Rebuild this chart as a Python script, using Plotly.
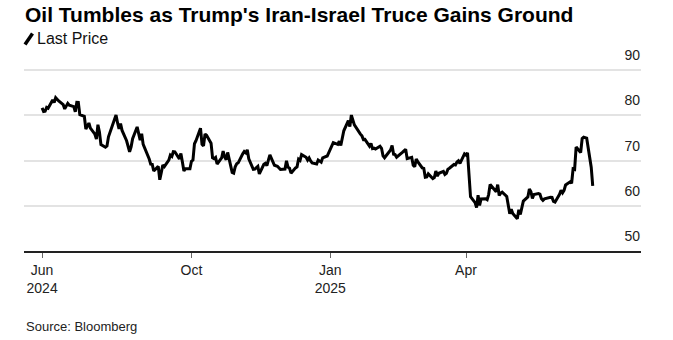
import plotly.graph_objects as go

# ---- data (WTI-style last price) ----
dates = [
"2024-06-24","2024-06-25","2024-06-26","2024-06-27","2024-06-28",
"2024-07-01","2024-07-02","2024-07-03","2024-07-05","2024-07-08","2024-07-09","2024-07-10","2024-07-11","2024-07-12",
"2024-07-15","2024-07-16","2024-07-17","2024-07-18","2024-07-19","2024-07-22","2024-07-23","2024-07-24","2024-07-25","2024-07-26",
"2024-07-29","2024-07-30","2024-07-31","2024-08-01","2024-08-02","2024-08-05","2024-08-06","2024-08-07","2024-08-08","2024-08-09",
"2024-08-12","2024-08-13","2024-08-14","2024-08-15","2024-08-16","2024-08-19","2024-08-20","2024-08-21","2024-08-22","2024-08-23",
"2024-08-26","2024-08-27","2024-08-28","2024-08-29","2024-08-30","2024-09-03","2024-09-04","2024-09-05","2024-09-06",
"2024-09-09","2024-09-10","2024-09-11","2024-09-12","2024-09-13","2024-09-16","2024-09-17","2024-09-18","2024-09-19","2024-09-20",
"2024-09-23","2024-09-24","2024-09-25","2024-09-26","2024-09-27","2024-09-30","2024-10-01","2024-10-02","2024-10-03","2024-10-04",
"2024-10-07","2024-10-08","2024-10-09","2024-10-10","2024-10-11","2024-10-14","2024-10-15","2024-10-16","2024-10-17","2024-10-18",
"2024-10-21","2024-10-22","2024-10-23","2024-10-24","2024-10-25","2024-10-28","2024-10-29","2024-10-30","2024-10-31","2024-11-01",
"2024-11-04","2024-11-05","2024-11-06","2024-11-07","2024-11-08","2024-11-11","2024-11-12","2024-11-13","2024-11-14","2024-11-15",
"2024-11-18","2024-11-19","2024-11-20","2024-11-21","2024-11-22","2024-11-25","2024-11-26","2024-11-27","2024-11-29",
"2024-12-02","2024-12-03","2024-12-04","2024-12-05","2024-12-06","2024-12-09","2024-12-10","2024-12-11","2024-12-12","2024-12-13",
"2024-12-16","2024-12-17","2024-12-18","2024-12-19","2024-12-20","2024-12-23","2024-12-24","2024-12-26","2024-12-27",
"2024-12-30","2024-12-31","2025-01-02","2025-01-03","2025-01-06","2025-01-07","2025-01-08","2025-01-10",
"2025-01-13","2025-01-14","2025-01-15","2025-01-16","2025-01-17","2025-01-21","2025-01-22","2025-01-23","2025-01-24",
"2025-01-27","2025-01-28","2025-01-29","2025-01-30","2025-01-31","2025-02-03","2025-02-04","2025-02-05","2025-02-06","2025-02-07",
"2025-02-10","2025-02-11","2025-02-12","2025-02-13","2025-02-14","2025-02-18","2025-02-19","2025-02-20","2025-02-21",
"2025-02-24","2025-02-25","2025-02-26","2025-02-27","2025-02-28","2025-03-03","2025-03-04","2025-03-05","2025-03-06","2025-03-07",
"2025-03-10","2025-03-11","2025-03-12","2025-03-13","2025-03-14","2025-03-17","2025-03-18","2025-03-19","2025-03-20","2025-03-21",
"2025-03-24","2025-03-25","2025-03-26","2025-03-27","2025-03-28","2025-03-31","2025-04-01","2025-04-02","2025-04-03","2025-04-04",
"2025-04-07","2025-04-08","2025-04-09","2025-04-10","2025-04-11","2025-04-14","2025-04-15","2025-04-16","2025-04-17",
"2025-04-21","2025-04-22","2025-04-23","2025-04-24","2025-04-25","2025-04-28","2025-04-29","2025-04-30","2025-05-01","2025-05-02",
"2025-05-05","2025-05-06","2025-05-07","2025-05-08","2025-05-09","2025-05-12","2025-05-13","2025-05-14","2025-05-15","2025-05-16",
"2025-05-19","2025-05-20","2025-05-21","2025-05-22","2025-05-23","2025-05-27","2025-05-28","2025-05-29","2025-05-30",
"2025-06-02","2025-06-03","2025-06-04","2025-06-05","2025-06-06","2025-06-09","2025-06-10","2025-06-11","2025-06-12","2025-06-13",
"2025-06-16","2025-06-17","2025-06-18","2025-06-20","2025-06-23","2025-06-24",
]
last_price = [
81.63,80.83,80.90,81.74,81.54,
83.38,82.81,83.88,83.16,82.33,81.41,82.10,82.62,82.21,
81.91,80.76,82.85,82.82,80.13,79.78,76.96,77.59,78.28,77.16,
75.81,74.73,77.91,76.31,73.52,72.94,73.20,75.23,76.19,76.84,
80.06,78.35,76.98,78.16,76.65,74.37,73.17,71.93,73.01,74.83,
77.42,75.53,74.52,75.91,73.55,70.34,69.20,69.15,67.67,
68.71,65.75,67.31,68.97,68.65,70.09,71.19,70.91,71.95,71.92,
70.37,71.56,69.69,67.67,68.18,68.17,69.83,70.10,73.71,74.38,
77.14,73.57,73.24,75.85,75.56,73.83,70.58,70.39,70.67,69.22,
70.56,72.09,70.77,70.19,71.78,67.38,67.21,68.61,69.26,69.49,
71.47,71.99,71.69,72.36,70.38,68.04,68.12,68.43,68.70,67.02,
69.16,69.39,68.87,70.10,71.24,68.94,68.77,68.72,68.00,
68.10,69.94,68.54,68.30,67.20,68.37,68.59,70.29,70.02,71.29,
70.71,70.08,70.58,69.91,69.46,69.24,70.10,69.62,70.60,
70.99,71.72,73.13,73.96,73.56,74.25,73.32,76.57,
78.82,77.50,80.04,78.68,77.88,75.83,75.44,74.62,74.66,
73.17,73.77,72.62,72.73,72.53,73.16,72.70,71.03,70.61,71.00,
72.32,73.32,71.37,71.29,70.74,71.85,72.25,72.48,70.40,
70.70,68.93,68.62,70.35,69.76,68.37,68.26,66.31,66.36,67.04,
66.03,66.25,67.68,66.55,67.18,67.58,66.90,67.16,68.07,68.28,
69.11,69.00,69.65,69.92,69.36,71.48,71.20,71.71,66.95,61.99,
60.70,59.58,62.35,60.07,61.50,61.53,61.33,62.47,64.68,
63.08,64.67,62.27,62.79,63.02,62.05,60.42,58.21,59.24,58.29,
57.13,59.09,58.07,59.91,61.02,61.95,63.67,63.15,61.62,62.49,
62.69,62.56,61.57,61.20,61.53,61.89,61.84,60.94,60.79,
62.52,63.41,62.85,63.37,64.58,65.29,64.98,68.15,68.04,72.98,
71.77,74.84,75.14,74.93,68.51,64.37,
]

x_tickvals = ["2024-06-24", "2024-10-01", "2025-01-01", "2025-04-01"]
x_ticktext = ["Jun<br>2024", "Oct", "Jan<br>2025", "Apr"]
y_tickvals = [50, 60, 70, 80, 90]

title = "Oil Tumbles as Trump's Iran-Israel Truce Gains Ground"
legend_label = "Last Price"
source = "Source: Bloomberg"

# ---- layout geometry (pixels) ----
W, H = 673, 340
L, R, T, B = 24, 641, 30, 251
PX_PER_UNIT = 4.525          # 10 units = 45.25 px
Y_TOP = 50 + (B - T) / PX_PER_UNIT

def px_x(px):
    return (px - L) / (R - L)

def px_y(py):
    return (B - py) / (B - T)

FONT = "Liberation Sans, Arial, Helvetica, sans-serif"

fig = go.Figure()
fig.add_trace(go.Scatter(
    x=dates, y=last_price, mode="lines",
    line=dict(color="#000000", width=3),
    hoverinfo="skip", showlegend=False,
))

fig.update_layout(
    width=W, height=H,
    margin=dict(l=L, r=W - R, t=T, b=H - B, pad=0),
    paper_bgcolor="white", plot_bgcolor="white",
    font=dict(family=FONT, color="#222222"),
    xaxis=dict(
        type="date",
        range=["2024-06-12", "2025-07-26"],
        tickvals=x_tickvals, ticktext=x_ticktext,
        ticks="outside", ticklen=5, tickwidth=1, tickcolor="#666666",
        showline=True, linecolor="#222222", linewidth=1.5,
        showgrid=False, zeroline=False,
        tickfont=dict(size=14, color="#222222"),
        fixedrange=True,
    ),
    yaxis=dict(
        range=[50, Y_TOP], side="right",
        tickvals=y_tickvals,
        ticklabelposition="inside top",
        ticklabelshift=-5,
        ticklabelstandoff=-2,
        ticks="", showline=False,
        showgrid=True, gridcolor="#e3e3e3", gridwidth=1.5,
        zeroline=False,
        tickfont=dict(size=14, color="#222222"),
        fixedrange=True,
    ),
)

annotations = [
    dict(text="<b>" + title + "</b>", x=px_x(23), y=px_y(14.5), xref="paper", yref="paper",
         xanchor="left", yanchor="middle", showarrow=False,
         font=dict(size=21, color="#000000", family=FONT)),
    dict(text=legend_label, x=px_x(35), y=px_y(38), xref="paper", yref="paper",
         xanchor="left", yanchor="middle", showarrow=False,
         font=dict(size=16, color="#111111", family=FONT)),
    dict(text=source, x=px_x(24), y=px_y(326), xref="paper", yref="paper",
         xanchor="left", yanchor="middle", showarrow=False,
         font=dict(size=13, color="#222222", family=FONT)),
]
fig.update_layout(annotations=annotations)

# pen-style legend icon
fig.add_shape(type="line", xref="paper", yref="paper",
              x0=px_x(25), y0=px_y(44.5), x1=px_x(32.5), y1=px_y(33.5),
              line=dict(color="#000000", width=3.5))

fig.write_html("out.html")
